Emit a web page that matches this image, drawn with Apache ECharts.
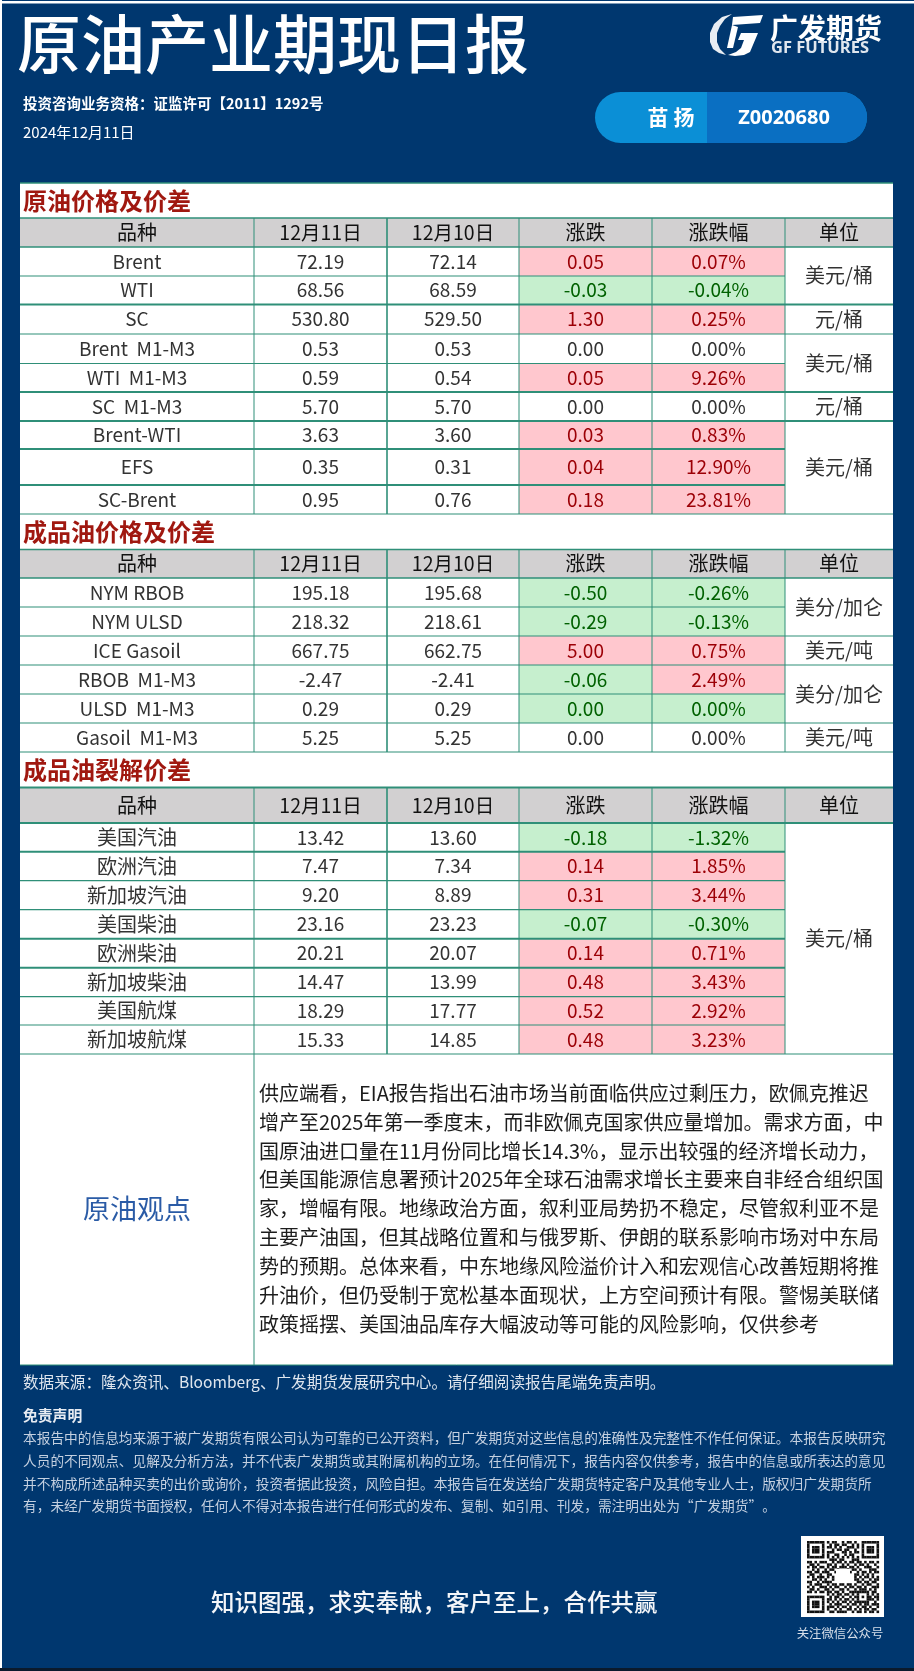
<!DOCTYPE html>
<html><head><meta charset="utf-8">
<style>html,body{margin:0;padding:0;background:#00376f}#c{width:914px;height:1671px}</style>
<script src="https://cdn.jsdelivr.net/npm/echarts@6/dist/echarts.min.js"></script>
</head><body><div id="c"></div>
<script>
// ---------- data ----------
const reportTitle = '原油产业期现日报';
const licence = '投资咨询业务资格：证监许可【2011】1292号';
const reportDate = '2024年12月11日';
const analyst = '苗 扬';
const analystId = 'Z0020680';
const headers = ['品种','12月11日','12月10日','涨跌','涨跌幅','单位'];

const crudeTitle = '原油价格及价差';
const crudeNames = ['Brent','WTI','SC','Brent  M1-M3','WTI  M1-M3','SC  M1-M3','Brent-WTI','EFS','SC-Brent'];
const crudeToday = ['72.19','68.56','530.80','0.53','0.59','5.70','3.63','0.35','0.95'];
const crudePrev  = ['72.14','68.59','529.50','0.53','0.54','5.70','3.60','0.31','0.76'];
const crudeChg   = ['0.05','-0.03','1.30','0.00','0.05','0.00','0.03','0.04','0.18'];
const crudePct   = ['0.07%','-0.04%','0.25%','0.00%','9.26%','0.00%','0.83%','12.90%','23.81%'];
const crudeUnits = [['美元/桶',2],['元/桶',1],['美元/桶',2],['元/桶',1],['美元/桶',3]];

const productTitle = '成品油价格及价差';
const productNames = ['NYM RBOB','NYM ULSD','ICE Gasoil','RBOB  M1-M3','ULSD  M1-M3','Gasoil  M1-M3'];
const productToday = ['195.18','218.32','667.75','-2.47','0.29','5.25'];
const productPrev  = ['195.68','218.61','662.75','-2.41','0.29','5.25'];
const productChg   = ['-0.50','-0.29','5.00','-0.06','0.00','0.00'];
const productPct   = ['-0.26%','-0.13%','0.75%','2.49%','0.00%','0.00%'];
const productUnits = [['美分/加仑',2],['美元/吨',1],['美分/加仑',2],['美元/吨',1]];

const crackTitle = '成品油裂解价差';
const crackNames = ['美国汽油','欧洲汽油','新加坡汽油','美国柴油','欧洲柴油','新加坡柴油','美国航煤','新加坡航煤'];
const crackToday = ['13.42','7.47','9.20','23.16','20.21','14.47','18.29','15.33'];
const crackPrev  = ['13.60','7.34','8.89','23.23','20.07','13.99','17.77','14.85'];
const crackChg   = ['-0.18','0.14','0.31','-0.07','0.14','0.48','0.52','0.48'];
const crackPct   = ['-1.32%','1.85%','3.44%','-0.30%','0.71%','3.43%','2.92%','3.23%'];
const crackUnits = [['美元/桶',8]];

const opinionTitle = '原油观点';
const opinionLines = [
 '供应端看，EIA报告指出石油市场当前面临供应过剩压力，欧佩克推迟',
 '增产至2025年第一季度末，而非欧佩克国家供应量增加。需求方面，中',
 '国原油进口量在11月份同比增长14.3%，显示出较强的经济增长动力，',
 '但美国能源信息署预计2025年全球石油需求增长主要来自非经合组织国',
 '家，增幅有限。地缘政治方面，叙利亚局势扔不稳定，尽管叙利亚不是',
 '主要产油国，但其战略位置和与俄罗斯、伊朗的联系影响市场对中东局',
 '势的预期。总体来看，中东地缘风险溢价计入和宏观信心改善短期将推',
 '升油价，但仍受制于宽松基本面现状，上方空间预计有限。警惕美联储',
 '政策摇摆、美国油品库存大幅波动等可能的风险影响，仅供参考'
];
const sourceNote = '数据来源：隆众资讯、Bloomberg、广发期货发展研究中心。请仔细阅读报告尾端免责声明。';
const disclaimerTitle = '免责声明';
const disclaimerLines = [
 '本报告中的信息均来源于被广发期货有限公司认为可靠的已公开资料，但广发期货对这些信息的准确性及完整性不作任何保证。本报告反映研究',
 '人员的不同观点、见解及分析方法，并不代表广发期货或其附属机构的立场。在任何情况下，报告内容仅供参考，报告中的信息或所表达的意见',
 '并不构成所述品种买卖的出价或询价，投资者据此投资，风险自担。本报告旨在发送给广发期货特定客户及其他专业人士，版权归广发期货所',
 '有，未经广发期货书面授权，任何人不得对本报告进行任何形式的发布、复制、如引用、刊发，需注明出处为“广发期货”。'
];
const slogan = '知识图强，求实奉献，客户至上，合作共赢';
const qrCaption = '关注微信公众号';
const qrRows = [
 '11111110101100101101001111111','10000010010110110010101000001','10111010110101001110101011101',
 '10111010001011011001001011101','10111010111000110101101011101','10000010100110010110001000001',
 '11111110101010101010101111111','00000000011101100011100000000','11010111001011010110110101101',
 '01101000110100101001011010010','10110110101101110110100111001','00101001011010001011010001110',
 '11011011100110110100101101011','01100100110000000001101010100','10101110101000000001010110101',
 '00110101001000000001101001011','11001011110000000000110110110','01011100101101101101001011001',
 '10100111010110010110110100111','01101001101001101001011101010','11010110110110100111111110110',
 '00000000101011011010100010101','11111110010110100101101011011','10000010110101011010100011101',
 '10111010101010110101111110010','10111010010111001011010110111','10111010111010110100101101001',
 '10000010100101001101010110110','11111110011011110010110101101'
];

// ---------- layout ----------
const colEdges = [20,254,387,519,652,785,893];
const GRID = '#2f8f78';
const UP = {fill:'#ffc7ce',color:'#9c0006'}, DOWN = {fill:'#c6efce',color:'#006100'};
const CJK = '"Noto Sans CJK SC","Noto Sans",sans-serif';

const cells = [], rules = [];
function cell(x0,y0,x1,y1,text,o){cells.push(Object.assign({x0,y0,x1,y1,text},o||{}));}
function rule(x0,y0,x1,y1,w){rules.push({x0,y0,x1,y1,w:w||1});}

function section(title, top, titleBottom, headBottom, edges, thick, cols, units, pctOnly){
  const [names,today,prev,chg,pct] = cols;
  cell(20,top,893,titleBottom,title,{align:'left',color:'#a01810',size:24,bold:true,pad:3});
  headers.forEach((h,i)=>cell(colEdges[i],titleBottom,colEdges[i+1],headBottom,h,{fill:'#d2d0d1',color:'#111',size:i==1||i==2?19.5:20}));
  names.forEach((n,r)=>{
    const y0=edges[r],y1=edges[r+1];
    const style=v=>{const sign=parseFloat(v);return sign>0?UP:sign<0?DOWN:null;};
    cell(colEdges[0],y0,colEdges[1],y1,n,{color:'#333',size:/[\u4e00-\u9fff]/.test(n)?20:19});
    cell(colEdges[1],y0,colEdges[2],y1,today[r],{color:'#333',size:19});
    cell(colEdges[2],y0,colEdges[3],y1,prev[r],{color:'#333',size:19});
    let cs=style(chg[r]), ps=style(pct[r]);
    if(pctOnly && pctOnly[r]!==undefined){ cs=pctOnly[r][0]; ps=pctOnly[r][1]; }
    cell(colEdges[3],y0,colEdges[4],y1,chg[r],Object.assign({color:'#333',size:19},cs||{}));
    cell(colEdges[4],y0,colEdges[5],y1,pct[r],Object.assign({color:'#333',size:19},ps||{}));
  });
  let idx=0;
  units.forEach(([u,n])=>{cell(colEdges[5],edges[idx],colEdges[6],edges[idx+n],u,{color:'#333',size:20});idx+=n;});
  rule(20,titleBottom,893,titleBottom,thick.head?2:1.5);
  rule(20,headBottom,893,headBottom,thick.head?2:1.5);
  const unitEnds=new Set();let k=0;units.forEach(([,n])=>{k+=n;unitEnds.add(k);});
  edges.forEach((y,i)=>{ if(i==0)return;
    rule(20,y,unitEnds.has(i)?893:785,y,thick.rows.includes(i)?2:1.2);
  });
  colEdges.slice(1,-1).forEach((x,i)=>rule(x,titleBottom,x,edges[edges.length-1],i==1?1.6:1));
}

section(crudeTitle,183,218,247,[247,276,304.5,334,363.5,392,421,449,485,514],{head:false,rows:[2,5,6,7,8]},
  [crudeNames,crudeToday,crudePrev,crudeChg,crudePct],crudeUnits);
section(productTitle,514,549.5,578,[578,607,636,665,694,723,752],{head:false,rows:[]},
  [productNames,productToday,productPrev,productChg,productPct],productUnits,{4:[DOWN,DOWN]});
section(crackTitle,752,787.5,823,[823,851.7,880.7,909.7,938.7,967.7,996.7,1025,1054],{head:true,rows:[1,4,5]},
  [crackNames,crackToday,crackPrev,crackChg,crackPct],crackUnits);
rule(20,183,893,183,1.5);
cell(20,1054,254,1365,opinionTitle,{color:'#2a5ba6',size:27,dy:-1});
rule(254,1054,254,1365,1);
rule(20,1365,893,1365,1);
opinionLines.forEach((l,i)=>cells.push({x0:259,y0:1093+i*28.96-14,x1:893,y1:1093+i*28.96+14,text:l,align:'left',color:'#1c1c1c',size:20}));

const whitePanel=[{x0:20,y0:183,x1:893,y1:1365}];

// ---------- chart ----------
const chart = echarts.init(document.getElementById('c'),null,{width:914,height:1671,renderer:'canvas'});
const box=(api,d)=>{const a=api.coord([d.x0,d.y0]),b=api.coord([d.x1,d.y1]);return {x:a[0],y:a[1],width:b[0]-a[0],height:b[1]-a[1]};};

const graphics=[];
const T=(text,x,y,size,color,o)=>graphics.push({type:'text',x,y,z:10,silent:true,style:Object.assign({text,fill:color,font:`${(o&&o.weight)||400} ${size}px ${(o&&o.family)||CJK}`,textAlign:(o&&o.align)||'left',textVerticalAlign:'middle'})});
const R=(x,y,w,h,fill,r)=>graphics.push({type:'rect',shape:{x,y,width:w,height:h,r:r||0},style:{fill},z:5,silent:true});
const P=(points,fill)=>graphics.push({type:'polygon',shape:{points},style:{fill},z:6,silent:true});

// frame
R(0,0,2,1671,'#fff'); R(0,1,914,2.5,'#fff'); R(0,1668,914,3,'#0b1a2c');
// header
T(reportTitle,17,44,64,'#fff',{weight:500});
T(licence,23,103,14.5,'#fff',{weight:700});
T(reportDate,23,132,15,'#fff');
// pill
R(595,92,272,51,'#0b8fd6',25.5);
R(707,92,160,51,'#0a6fc2',[0,25.5,25.5,0]);
T(analyst,671,117,21,'#fff',{weight:700,align:'center'});
T(analystId,784,118,20,'#fff',{weight:700,align:'center',family:'"Noto Sans",sans-serif'});
// logo
P([[732,14],[722,17],[714,24],[710,33],[710,42],[713,49],[719,53],[726,55],[720,49],[717,42],[717,33],[720,26],[725,19]],'#e8edf3');
P([[733,17],[763,15],[760,23],[732,25]],'#fff');
P([[732,25],[727,48],[733,48],[738,27]],'#fff');
P([[741,33],[758,33],[750,52],[744,55],[735,56],[728,55],[736,52],[741,48],[744,40],[738,40]],'#fff');
T('广发期货',770,28,28,'#fff',{weight:700});
T('GF FUTURES',771,48.5,16.5,'#dfe6ee',{weight:700,family:'"Open Sans",sans-serif'});
// footer
T(sourceNote,23,1382,15.6,'#dfe6ee');
T(disclaimerTitle,23,1415,14.8,'#e6ebf2',{weight:700});
disclaimerLines.forEach((l,i)=>T(l,23,1438+i*22.7,13.7,'#c4d0e0'));
T(slogan,211,1602,23.5,'#f4f6f9',{weight:500});
// QR
R(801,1536,83,81,'#fff');
const qm=72/qrRows.length;
qrRows.forEach((row,r)=>{[...row].forEach((c,i)=>{ if(c==='1') R(807+i*qm,1541+r*qm,qm+0.1,qm+0.1,'#111');});});
graphics.push({type:'rect',shape:{x:836,y:1569,width:14,height:12},style:{fill:'#fff'},z:7,silent:true});
T(qrCaption,840,1633,12.4,'#d7dfe9',{align:'center'});

chart.setOption({
  animation:false,
  backgroundColor:'#00376f',
  grid:{left:0,right:0,top:0,bottom:0},
  xAxis:{type:'value',min:0,max:914,show:false},
  yAxis:{type:'value',min:0,max:1671,inverse:true,show:false},
  graphic:graphics,
  series:[
    {type:'custom',coordinateSystem:'cartesian2d',silent:true,z:1,
     data:whitePanel.map(d=>[d.x0,d.y0]),
     renderItem:(p,api)=>({type:'rect',shape:box(api,whitePanel[p.dataIndex]),style:{fill:'#fff'}})},
    {type:'custom',coordinateSystem:'cartesian2d',silent:true,z:2,
     data:cells.map(d=>[d.x0,d.y0]),
     renderItem:(p,api)=>{
       const d=cells[p.dataIndex], b=box(api,d), kids=[];
       if(d.fill) kids.push({type:'rect',shape:b,style:{fill:d.fill}});
       const left=d.align==='left';
       kids.push({type:'text',z2:5,style:{text:d.text,
         x:left?b.x+(d.pad||0):b.x+b.width/2,
         y:b.y+b.height/2+(d.dy||0),
         textAlign:left?'left':'center',textVerticalAlign:'middle',
         fill:d.color||'#333',
         font:`${d.bold?700:400} ${d.size||20}px ${CJK}`}});
       return {type:'group',children:kids};
     }},
    {type:'custom',coordinateSystem:'cartesian2d',silent:true,z:3,
     data:rules.map(d=>[d.x0,d.y0]),
     renderItem:(p,api)=>{
       const d=rules[p.dataIndex],a=api.coord([d.x0,d.y0]),b=api.coord([d.x1,d.y1]);
       return {type:'line',shape:{x1:a[0],y1:a[1],x2:b[0],y2:b[1]},style:{stroke:GRID,lineWidth:d.w}};
     }}
  ]
});
</script></body></html>
